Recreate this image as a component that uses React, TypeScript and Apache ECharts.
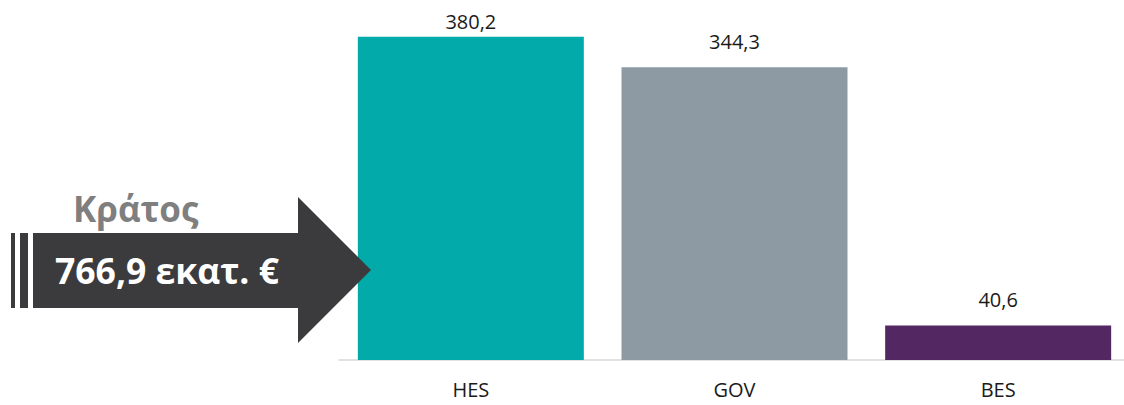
import React, { useEffect, useRef } from "react";
import * as echarts from "echarts";

const categories = ["HES", "GOV", "BES"];
const values = [380.2, 344.3, 40.6];
const barColors = ["#02ABA9", "#8D9AA3", "#532761"];
const labelGaps = [5, 16, 16];
const arrowTitle = "Κράτος";
const arrowValue = "766,9 εκατ. €";

const fmt = (v: number) => v.toFixed(1).replace(".", ",");

export default function App() {
  const ref = useRef<HTMLDivElement>(null);
  useEffect(() => {
    document.body.style.margin = "0";
    const chart = echarts.init(ref.current!, null, { renderer: "svg" });
    chart.setOption({
      animation: false,
      backgroundColor: "#ffffff",
      textStyle: { fontFamily: "Open Sans" },
      grid: { left: 339, right: 10, top: 20, bottom: 45, containLabel: false },
      xAxis: {
        type: "category",
        data: categories,
        axisLine: { show: true, lineStyle: { color: "#D9D9D9", width: 1.5 } },
        axisTick: { show: false },
        axisLabel: { color: "#1a1a1a", fontSize: 20, margin: 19, fontFamily: "Open Sans" },
      },
      yAxis: {
        type: "value",
        min: 0,
        max: 400,
        show: false,
        splitLine: { show: false },
      },
      series: [
        {
          type: "bar",
          barWidth: 226,
          z: 1,
          data: values.map((v, i) => ({
            value: v,
            itemStyle: { color: barColors[i] },
            label: { distance: labelGaps[i] },
          })),
          label: {
            show: true,
            position: "top",
            distance: 5,
            color: "#1a1a1a",
            fontSize: 20,
            fontFamily: "Open Sans",
            formatter: (p: any) => fmt(p.value),
          },
        },
      ],
      graphic: [
        { type: "rect", z: 100, shape: { x: 11, y: 233, width: 4, height: 75 }, style: { fill: "#3B3B3D" } },
        { type: "rect", z: 100, shape: { x: 20, y: 233, width: 8, height: 75 }, style: { fill: "#3B3B3D" } },
        {
          type: "polygon",
          z: 100,
          shape: {
            points: [
              [33, 233],
              [298, 233],
              [298, 197],
              [371, 270],
              [298, 343],
              [298, 308],
              [33, 308],
            ],
          },
          style: { fill: "#3B3B3D" },
        },
        {
          type: "text",
          z: 101,
          left: 73,
          top: 191,
          style: {
            text: arrowTitle,
            fill: "#7F7F7F",
            fontSize: 35,
            fontWeight: "bold",
            fontFamily: "Open Sans",
          },
        },
        {
          type: "text",
          z: 101,
          left: 55,
          top: 252,
          style: {
            text: arrowValue,
            fill: "#ffffff",
            fontSize: 35.5,
            fontWeight: "bold",
            fontFamily: "Open Sans",
          },
        },
      ],
    });
    return () => chart.dispose();
  }, []);
  return (
    <div style={{ width: 1124, height: 405, overflow: "hidden", position: "relative" }}>
      <div ref={ref} style={{ width: 1140, height: 405 }} />
    </div>
  );
}
